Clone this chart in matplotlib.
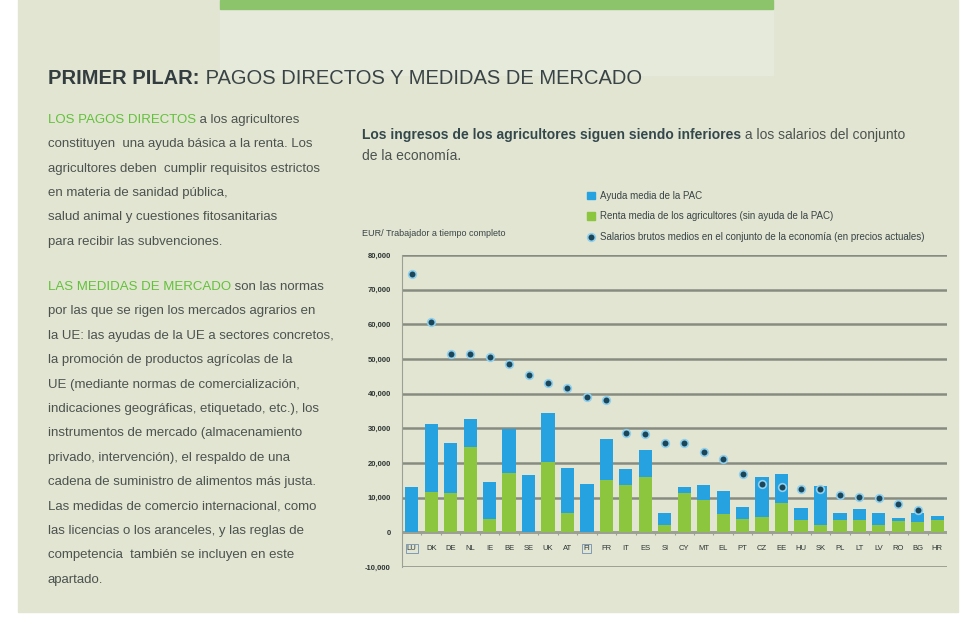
"""
    Primer pilar: ingresos de los agricultores frente a salarios (UE).
"""

import numpy as np
import matplotlib
matplotlib.use('Agg')
from matplotlib import pyplot as plt
from matplotlib.patches import Rectangle
from matplotlib.lines import Line2D

plt.rcParams['font.family'] = ['Liberation Sans', 'DejaVu Sans']

paises = ['LU', 'DK', 'DE', 'NL', 'IE', 'BE', 'SE', 'UK', 'AT', 'FI', 'FR', 'IT', 'ES', 'SI',
          'CY', 'MT', 'EL', 'PT', 'CZ', 'EE', 'HU', 'SK', 'PL', 'LT', 'LV', 'RO', 'BG', 'HR']
# Renta media de los agricultores (sin ayuda de la PAC), EUR
renta = [0, 11600, 11300, 24600, 3800, 17100, 0, 20300, 5500, 0, 15100, 13600, 16000, 2000,
         11300, 9300, 5200, 3800, 4300, 8400, 3500, 2000, 3500, 3500, 2000, 3300, 2900, 3500]
# Ayuda media de la PAC, EUR
ayuda = [13000, 19700, 14500, 8200, 10700, 12800, 16500, 14200, 13100, 13900, 11800, 4700, 7800, 3500,
         1700, 4300, 6700, 3400, 11700, 8400, 3500, 11300, 2000, 3200, 3500, 800, 2600, 1100]
# Salarios brutos medios en el conjunto de la economia, EUR
salarios = [74500, 60600, 51300, 51300, 50700, 48700, 45500, 43200, 41700, 39100, 38300, 28700, 28400, 25800,
            25800, 23200, 21200, 16800, 13900, 13000, 12500, 12500, 10700, 10100, 9800, 8100, 6400, np.nan]
yticks = list(range(-10000, 80001, 10000))

leyenda = ['Ayuda media de la PAC',
           'Renta media de los agricultores (sin ayuda de la PAC)',
           'Salarios brutos medios en el conjunto de la economía (en precios actuales)']

FONDO = '#e1e5d2'
AZUL = '#27a2e0'
VERDE = '#8cc63e'
TEXTO = '#4c534f'
OSCURO = '#3a4446'
VERDE_TXT = '#62c13a'
X0 = 48

fig = plt.figure(figsize=(9.73, 6.29), dpi=100)
fig.patch.set_facecolor('white')

# capa de fondo y textos, en pixeles
bg = fig.add_axes([0, 0, 1, 1])
bg.set_xlim(0, 973)
bg.set_ylim(629, 0)
bg.axis('off')
bg.add_patch(Rectangle((18, 0), 940, 612, color=FONDO, zorder=0))
bg.add_patch(Rectangle((220, 0), 553, 75, color='#e6eadb', zorder=1))
bg.add_patch(Rectangle((220, 0), 553, 9, color='#8cc46c', zorder=2))

t = bg.text(X0, 78, 'PRIMER PILAR:', fontsize=14.5, fontweight='bold', color='#333d3f', va='center')
bg.annotate(' PAGOS DIRECTOS Y MEDIDAS DE MERCADO', xy=(1, 0.5), xycoords=t,
            va='center', ha='left', fontsize=14.5, color=OSCURO)

parrafo1 = ['constituyen  una ayuda básica a la renta. Los',
            'agricultores deben  cumplir requisitos estrictos',
            'en materia de sanidad pública,',
            'salud animal y cuestiones fitosanitarias',
            'para recibir las subvenciones.']
parrafo2 = ['por las que se rigen los mercados agrarios en',
            'la UE: las ayudas de la UE a sectores concretos,',
            'la promoción de productos agrícolas de la',
            'UE (mediante normas de comercialización,',
            'indicaciones geográficas, etiquetado, etc.), los',
            'instrumentos de mercado (almacenamiento',
            'privado, intervención), el respaldo de una',
            'cadena de suministro de alimentos más justa.',
            'Las medidas de comercio internacional, como',
            'las licencias o los aranceles, y las reglas de',
            'competencia  también se incluyen en este',
            'apartado.']
CUERPO = 9.5

def encabezado(y, verde, resto):
    h = bg.text(X0, y, verde, fontsize=CUERPO, color=VERDE_TXT, va='center')
    bg.annotate(resto, xy=(1, 0.5), xycoords=h, va='center', ha='left',
                fontsize=CUERPO, color=TEXTO)

encabezado(120, 'LOS PAGOS DIRECTOS', ' a los agricultores')
for i, linea in enumerate(parrafo1):
    bg.text(X0, 144.3 + 24.3 * i, linea, fontsize=CUERPO, color=TEXTO, va='center')
encabezado(287, 'LAS MEDIDAS DE MERCADO', ' son las normas')
for i, linea in enumerate(parrafo2):
    bg.text(X0, 311.4 + 24.4 * i, linea, fontsize=CUERPO, color=TEXTO, va='center')

s = bg.text(362, 135, 'Los ingresos de los agricultores siguen siendo inferiores',
            fontsize=10, fontweight='bold', color='#34484c', va='center')
bg.annotate(' a los salarios del conjunto', xy=(1, 0.5), xycoords=s, va='center',
            ha='left', fontsize=10, color=TEXTO)
bg.text(362, 156, 'de la economía.', fontsize=10, color=TEXTO, va='center')
bg.text(362, 234, 'EUR/ Trabajador a tiempo completo', fontsize=6.5, color=OSCURO, va='center')

# grafico
ax = fig.add_axes([402 / 973, 1 - 567 / 629, 545 / 973, 312 / 629])
ax.set_facecolor('none')
x = np.arange(len(paises))
ax.bar(x, renta, width=0.68, color=VERDE, zorder=2)
ax.bar(x, ayuda, width=0.68, bottom=renta, color=AZUL, zorder=2)
ax.plot(x, salarios, 'o', ms=5.5, mfc='#1c4657', mec='#8fd0ee', mew=1.2, zorder=3)

ax.set_xlim(-0.5, len(paises) - 0.5)
ax.set_ylim(-10000, 80000)
ax.set_yticks(yticks)
ax.set_yticklabels(['{:,}'.format(v) for v in yticks], fontsize=5.5,
                   fontweight='bold', color='#2e3533')
ax.yaxis.grid(True, color='#878c80', lw=1.8, zorder=0)
ax.set_axisbelow(True)
ax.tick_params(axis='y', length=0, pad=8)
ax.set_xticks([])
for side in ['top', 'right', 'bottom']:
    ax.spines[side].set_visible(False)
ax.spines['left'].set_color('#9aa094')

ax.axhline(0, color='#9aa094', lw=0.8, zorder=1)
ax.vlines(np.arange(-0.5, len(paises), 1), -800, 0, color='#9aa094', lw=0.8, zorder=1)
for i, p in enumerate(paises):
    caja = None
    if p in ('LU', 'FI'):
        caja = dict(boxstyle='square,pad=0.15', fc='none', ec='#6f8fb0', lw=0.6)
    ax.text(i, -4600, p, ha='center', va='center', fontsize=5.5,
            color='#2e3533', bbox=caja)

manejadores = [Rectangle((0, 0), 1, 1, color=AZUL),
               Rectangle((0, 0), 1, 1, color=VERDE),
               Line2D([], [], ls='none', marker='o', ms=5.5, mfc='#1c4657',
                      mec='#8fd0ee', mew=1.2)]
fig.legend(manejadores, leyenda, loc='upper left', bbox_to_anchor=(578 / 973, 1 - 182 / 629),
           frameon=False, fontsize=7, labelspacing=1.1, handlelength=0.8,
           handleheight=0.8, handletextpad=0.6, labelcolor=OSCURO)

fig.savefig('out.png', dpi=100, facecolor=fig.get_facecolor())
